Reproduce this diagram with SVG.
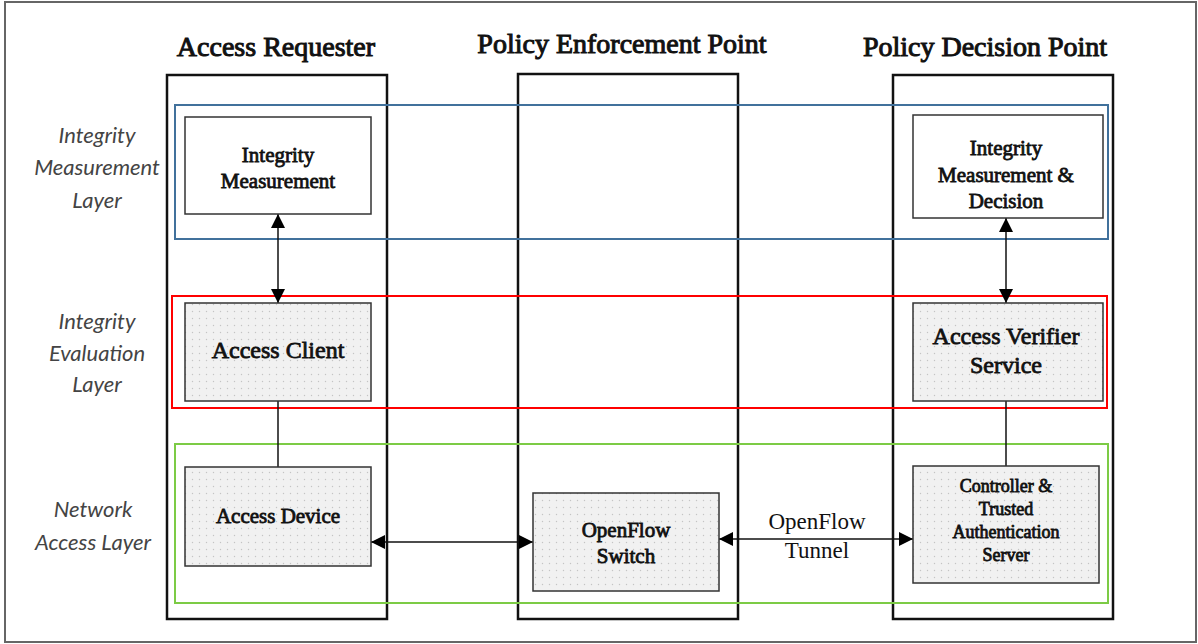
<svg xmlns="http://www.w3.org/2000/svg" width="1198" height="644" viewBox="0 0 1198 644">
  <defs>
    <pattern id="dots" width="7" height="7" patternUnits="userSpaceOnUse">
      <rect width="7" height="7" fill="#f1f1f1"/>
      <circle cx="3.5" cy="3.5" r="0.7" fill="#c4c4c4"/>
    </pattern>
    <marker id="ah" viewBox="0 0 10 10" refX="10" refY="5" markerWidth="14" markerHeight="14" markerUnits="userSpaceOnUse" orient="auto-start-reverse">
      <path d="M0,0 L10,5 L0,10 z" fill="#000"/>
    </marker>
  </defs>
  <style>
    .frame { fill: #fff; stroke: #666; stroke-width: 2; }
    .col { fill: none; stroke: #111; stroke-width: 2.5; }
    .node { stroke: #333; stroke-width: 1.5; }
    .plain { fill: #fff; }
    .shaded { fill: url(#dots); }
    .title { font-family: "Liberation Serif", "Times New Roman", serif; font-size: 28px; fill: #111; stroke: #111; stroke-width: 1; text-anchor: middle; }
    .lbl { font-family: "Liberation Serif", "Times New Roman", serif; fill: #111; stroke: #111; stroke-width: 0.8; text-anchor: middle; }
    .layer { font-family: Lato, "Liberation Sans", sans-serif; font-style: italic; font-size: 22px; fill: #444; text-anchor: middle; }
    .conn { stroke: #111; stroke-width: 1.5; fill: none; }
    .tunnel { font-family: "Liberation Serif", "Times New Roman", serif; font-size: 23px; fill: #111; text-anchor: middle; }
  </style>

  <rect class="frame" x="5" y="2" width="1191" height="640"/>

  <!-- column headings -->
  <text class="title" x="276" y="56">Access Requester</text>
  <text class="title" x="622" y="53">Policy Enforcement Point</text>
  <text class="title" x="985" y="56">Policy Decision Point</text>

  <!-- columns -->
  <g id="columns">
    <rect class="col" x="167" y="75" width="220" height="544"/>
    <rect class="col" x="518" y="74" width="220" height="545"/>
    <rect class="col" x="893" y="75" width="220" height="544"/>
  </g>

  <!-- layer bands -->
  <g id="layers">
    <rect x="175" y="105" width="933" height="134" fill="none" stroke="#41719c" stroke-width="2"/>
    <rect x="172" y="296" width="935" height="112" fill="none" stroke="#ff0000" stroke-width="2"/>
    <rect x="175" y="444" width="933" height="159" fill="none" stroke="#7ccb45" stroke-width="2"/>
  </g>

  <!-- layer names -->
  <g id="layer-names">
    <text class="layer" x="97" y="143">Integrity</text>
    <text class="layer" x="97" y="175">Measurement</text>
    <text class="layer" x="97" y="208">Layer</text>
    <text class="layer" x="97" y="329">Integrity</text>
    <text class="layer" x="97" y="361">Evaluation</text>
    <text class="layer" x="97" y="392">Layer</text>
    <text class="layer" x="93" y="517">Network</text>
    <text class="layer" x="93" y="550">Access Layer</text>
  </g>

  <!-- connectors -->
  <g id="connectors">
    <line class="conn" x1="278" y1="214" x2="278" y2="303" marker-start="url(#ah)" marker-end="url(#ah)"/>
    <line class="conn" x1="1006" y1="218" x2="1006" y2="303" marker-start="url(#ah)" marker-end="url(#ah)"/>
    <line class="conn" x1="278" y1="401" x2="278" y2="467"/>
    <line class="conn" x1="1006" y1="401" x2="1006" y2="466"/>
    <line class="conn" x1="371" y1="542" x2="533" y2="542" marker-start="url(#ah)" marker-end="url(#ah)"/>
    <line class="conn" x1="719" y1="539" x2="913" y2="539" marker-start="url(#ah)" marker-end="url(#ah)"/>
    <text class="tunnel" x="817" y="529">OpenFlow</text>
    <text class="tunnel" x="817" y="558">Tunnel</text>
  </g>

  <g id="integrity-measurement">
    <rect class="node plain" x="185" y="117" width="186" height="97"/>
    <text class="lbl" font-size="21" x="278" y="162">Integrity</text>
    <text class="lbl" font-size="21" x="278" y="188">Measurement</text>
  </g>

  <g id="integrity-measurement-decision">
    <rect class="node plain" x="913" y="115" width="190" height="103"/>
    <text class="lbl" font-size="21" x="1006" y="155">Integrity</text>
    <text class="lbl" font-size="21" x="1006" y="182">Measurement &amp;</text>
    <text class="lbl" font-size="21" x="1006" y="208">Decision</text>
  </g>

  <g id="access-client">
    <rect class="node shaded" x="185" y="303" width="186" height="98"/>
    <text class="lbl" font-size="24" x="278" y="358">Access Client</text>
  </g>

  <g id="access-verifier-service">
    <rect class="node shaded" x="913" y="303" width="190" height="98"/>
    <text class="lbl" font-size="24" x="1006" y="344">Access Verifier</text>
    <text class="lbl" font-size="24" x="1006" y="373">Service</text>
  </g>

  <g id="access-device">
    <rect class="node shaded" x="185" y="467" width="186" height="99"/>
    <text class="lbl" font-size="21" x="278" y="523">Access Device</text>
  </g>

  <g id="openflow-switch">
    <rect class="node shaded" x="533" y="493" width="186" height="98"/>
    <text class="lbl" font-size="21" x="626" y="537">OpenFlow</text>
    <text class="lbl" font-size="21" x="626" y="563">Switch</text>
  </g>

  <g id="controller-server">
    <rect class="node shaded" x="913" y="466" width="186" height="117"/>
    <text class="lbl" font-size="18" x="1006" y="492">Controller &amp;</text>
    <text class="lbl" font-size="18" x="1006" y="515">Trusted</text>
    <text class="lbl" font-size="18" x="1006" y="538">Authentication</text>
    <text class="lbl" font-size="18" x="1006" y="561">Server</text>
  </g>
</svg>
